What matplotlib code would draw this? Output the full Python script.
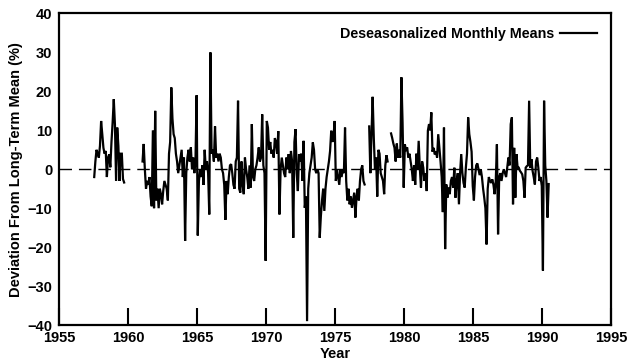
import numpy as np
import matplotlib.pyplot as plt

# Deviation from long-term mean (%), deseasonalized monthly means.
# Values; gaps in the record are kept as separate segments.

# record 1: Jul 1957 - Sep 1959
seg1_start = (1957, 7)
seg1_vals = [
    -2, 2, 5, 4, 3, 6,
    12.4, 9, 5.5, 4, 4.7, -2, 3, 3.8, 0.5, 7, 12, 18,
    11.5, -3, 10.7, 6, -3, 4, 4, -2.5, -3.4,
]

# record 2: Jan 1961 - Feb 1977
seg2_start = (1961, 1)
seg2_vals = [
    2, 6.5, 0, -5, -3, -4, -2, -7, -9.5, 10, -10, 15,              # 1961
    -8, -5, -10, -5, -6.4, -9, -5.5, -3, -4, -5, -8, 4,            # 1962
    7, 21, 13, 9, 8, 4, 2, -1, 1, 3, 5, -2,                        # 1963
    3, -18.4, -1, 3, 5, 2, 5.6, 0, 3, -1, 2, 19,                   # 1964
    -17, -3, 0, -2, 1, -4, 5, 0, 2, -1, -11.6, 30,                 # 1965
    4, 5, 2, 11, 3, 4, 2, 4, 3, 0, -1, -4,                         # 1966
    -13, -3, -6.4, -2, 1, 1.3, -1, -4, -5, 2, 3, 17.6,             # 1967
    -5, -6, 2, -4, -6.4, 3, 0, -2, -5, 1, -4.7, 11.6,              # 1968
    -2, -3, 0, 1, 3, 5.6, 2, 3, 14.1, 1, -1, -23.5,                # 1969
    12.4, 10.7, 5, 7, 4, 5, 3, 8, 7, 4, 9.8, -11.6,                # 1970
    0, 3, 1, -1, -2, 3, 0, 3.9, -1, 4.7, 2, -17.6,                 # 1971
    7, 10.3, -1, -5.6, 3.9, 2, 4, -3, 7.3, -9.9, -7, -39,          # 1972
    -5, -1, 1, 3, 6.9, 5, 0, -1, 0, -1, -17.6, -12,                # 1973
    -8, -5, -10.7, -5, -2, 0, 2, 4.7, 9.9, 7, 8.5, 12.4,           # 1974
    -3, 0, -2, -4, 0, -2, 0, -1, 10.7, -3, -8, -5,                 # 1975
    -9, -7, -9.9, -8, -6, -12.4, -7, -5, -8, -3, 0, 1,             # 1976
    -3, -3.9,                                                      # 1977
]

# record 3: Jun 1977 - Oct 1978
seg3_start = (1977, 6)
seg3_vals = [11, -1, 9, 18.6, 8, 0, 3, -7, 5, 4, -1, -2, -3, -6.4, 1, 3.6, 2]

# record 4: Jan 1979 - Jun 1990
seg4_start = (1979, 1)
seg4_vals = [
    9.2, 8, 6.6, 5.5, 2, 6.6, 3, 5, 3, 23.6, 12, -4.7,             # 1979
    6.4, 4.7, 5.6, 3, 4, 2, 0, -3, 1, -4, 4, 0,                    # 1980
    7.3, 0.4, -4.7, 2, 0.4, -3, -1, -5.6, 9.9, 11.6, 10, 14.6,     # 1981
    4.5, 5.5, 3.8, 4.6, 3, 9, 5.5, 2, -2, -11, 10.7, -20.5,        # 1982
    -3.9, -7.3, -4.7, -6.4, -3, -2, -4.7, 0.4, -7.3, -3, -1, -9,   # 1983
    -1, 3.9, -1, -3.5, -4.7, 0.4, 4, 13.3, 9, 7, 4.5, -4.3,        # 1984
    -8, -2, 1, 1.5, 0, -1.5, 0, -2, -5, -7.3, -10, -19.3,          # 1985
    -5, -2, -3, -3.5, -2.6, -4, -6.4, -3, 6.4, -16.7, -2, -1,      # 1986
    -3, -1, 0, -1, -2, 0.4, 3, 1, 11.6, 13.3, -9, 5.5,             # 1987
    -7.3, 3.9, 0.4, 0.4, -0.4, -0.8, -1.3, -3, -7.3, 0.4, 0.8, 1,  # 1988
    17.6, 0.4, 2.6, -0.4, -2, -3.9, 2, 3, 0.4, -3, -2, -4.3,       # 1989
    -26, 17.6, 1, -3, -12.4, -3.8,                                 # 1990
]

segments = [
    (seg1_start, seg1_vals),
    (seg2_start, seg2_vals),
    (seg3_start, seg3_vals),
    (seg4_start, seg4_vals),
]

year_ticks = list(range(1955, 2000, 5))
dev_ticks = list(range(-40, 50, 10))


def month_axis(start, n):
    # decimal year at mid-month
    y, m = start
    return y + (m - 1 + 0.5 + np.arange(n)) / 12.0


plt.rcParams['font.family'] = ['Liberation Sans', 'DejaVu Sans']
plt.rcParams['font.weight'] = 'bold'

fig = plt.figure(figsize=(6.29, 3.64), dpi=100)
ax = fig.add_axes([0.094, 0.107, 0.878, 0.856])

line = None
for start, vals in segments:
    x = month_axis(start, len(vals))
    line, = ax.plot(x, vals, color='black', linewidth=1.6, solid_joinstyle='miter')

ax.axhline(0, color='black', linewidth=1.0, linestyle=(0, (9, 5)), zorder=1)

ax.set_xlim(1955, 1995)
ax.set_ylim(-40, 40)
ax.set_xticks(year_ticks)
ax.set_yticks(dev_ticks)
ax.tick_params(axis='x', direction='in', length=12, width=1.5, labelsize=10.5, pad=4)
ax.tick_params(axis='y', direction='in', length=0, labelsize=10.5, pad=5)
for s in ax.spines.values():
    s.set_linewidth(1.6)

ax.set_xlabel('Year', fontsize=10.5, fontweight='bold', labelpad=2)
ax.set_ylabel('Deviation From Long-Term Mean (%)', fontsize=10.5, fontweight='bold', labelpad=3)

ax.legend([line], ['Deseasonalized Monthly Means'], loc='upper right',
          bbox_to_anchor=(0.99, 0.985), frameon=False, markerfirst=False,
          handlelength=2.6, handletextpad=0.4, borderaxespad=0.2,
          prop={'weight': 'bold', 'size': 10.3})

fig.savefig('out.png', dpi=100)
